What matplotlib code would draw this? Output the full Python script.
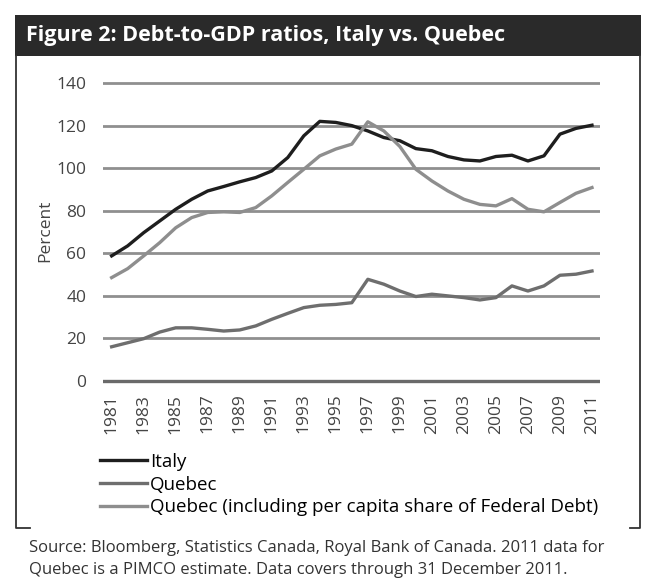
import matplotlib
matplotlib.use("Agg")
import matplotlib.pyplot as plt
from matplotlib.patches import Rectangle
from matplotlib.lines import Line2D

years = list(range(1981, 2012))
italy = [58.8, 63.5, 69.7, 75.2, 80.7, 85.4, 89.3, 91.4, 93.6, 95.6, 98.7, 105.0,
         115.2, 122.0, 121.5, 120.0, 117.5, 114.4, 112.9, 109.2, 108.2, 105.5,
         103.9, 103.4, 105.5, 106.1, 103.4, 105.8, 116.0, 118.7, 120.2]
quebec = [16.1, 18.0, 19.9, 23.0, 25.0, 25.0, 24.3, 23.5, 24.0, 25.9, 29.0, 31.8,
          34.5, 35.6, 36.0, 36.8, 47.8, 45.5, 42.3, 39.7, 40.8, 40.0, 39.2, 38.1,
          39.2, 44.7, 42.3, 44.7, 49.7, 50.2, 51.7]
quebec_fed = [48.6, 52.8, 58.8, 65.0, 72.0, 76.8, 79.2, 79.5, 79.2, 81.5, 87.0,
              93.3, 99.5, 105.8, 109.0, 111.3, 121.8, 117.5, 110.2, 99.5, 94.0,
              89.3, 85.4, 83.0, 82.3, 85.7, 80.7, 79.5, 83.9, 88.2, 90.9]
series_names = ["Italy", "Quebec", "Quebec (including per capita share of Federal Debt)"]
series_colors = ["#1e1e1e", "#6e6e6e", "#8e8e8e"]
yticks = [0, 20, 40, 60, 80, 100, 120, 140]
xtick_years = list(range(1981, 2012, 2))

title = "Figure 2: Debt-to-GDP ratios, Italy vs. Quebec"
source = ("Source: Bloomberg, Statistics Canada, Royal Bank of Canada. 2011 data for\n"
          "Quebec is a PIMCO estimate. Data covers through 31 December 2011.")

plt.rcParams['font.family'] = ['Open Sans', 'DejaVu Sans']

W, H = 653, 582
fig = plt.figure(figsize=(W / 100, H / 100), dpi=100)

def fx(px):
    return px / W

def fy(py):
    return 1 - py / H

# title bar
fig.patches.append(Rectangle((fx(15), fy(56)), fx(641) - fx(15), fy(15) - fy(56),
                             transform=fig.transFigure, facecolor="#2a2a2a",
                             edgecolor="none", zorder=0))
fig.text(fx(26), fy(36), title, color="white", fontsize=15.5, fontweight="bold",
         va="center", ha="left")

# frame brackets
for xs, ys in [([fx(30), fx(16), fx(16)], [fy(528), fy(528), fy(56)]),
               ([fx(630), fx(640), fx(640)], [fy(528), fy(528), fy(56)])]:
    fig.add_artist(Line2D(xs, ys, transform=fig.transFigure, color="#333333", lw=1.3))

# axes
ax = fig.add_axes([fx(103), fy(385.3), fx(600) - fx(103), 306.5 / H])
ax.set_xlim(1980.46, 2011.5)
ax.set_ylim(-2, 142)
for y in yticks:
    ax.axhline(y, color="#8f8f8f" if y else "#6a6a6a", lw=2.0 if y else 2.4, zorder=1)

handles = []
for vals, name, col in zip([italy, quebec, quebec_fed], series_names, series_colors):
    h, = ax.plot(years, vals, color=col, lw=2.4, label=name, zorder=3,
                 solid_joinstyle="round")
    handles.append(h)

ax.set_yticks(yticks)
ax.set_yticklabels([str(v) for v in yticks], fontsize=12.5, color="#444444")
ax.set_xticks(xtick_years)
ax.set_xticklabels([str(v) for v in xtick_years], rotation=90, fontsize=12.5,
                   color="#444444")
ax.tick_params(axis="both", length=0)
ax.tick_params(axis="y", pad=12)
ax.tick_params(axis="x", pad=6)
for s in ax.spines.values():
    s.set_visible(False)
ax.set_ylabel("Percent", fontsize=12.5, color="#444444")
ax.yaxis.set_label_coords((45 - 103) / 497, (385.3 - 231) / 306.5)
ax.yaxis.label.set_va("center")

fig.legend(handles=handles, loc="upper left", bbox_to_anchor=(fx(100), fy(453)),
           frameon=False, fontsize=13.5, handlelength=2.5, handletextpad=0.15,
           labelspacing=0.25, borderaxespad=0, borderpad=0)

fig.text(fx(29), fy(559), source, fontsize=12, color="#333333", ha="left",
         va="center", linespacing=1.45)

fig.savefig("out.png", dpi=100, facecolor="white")
